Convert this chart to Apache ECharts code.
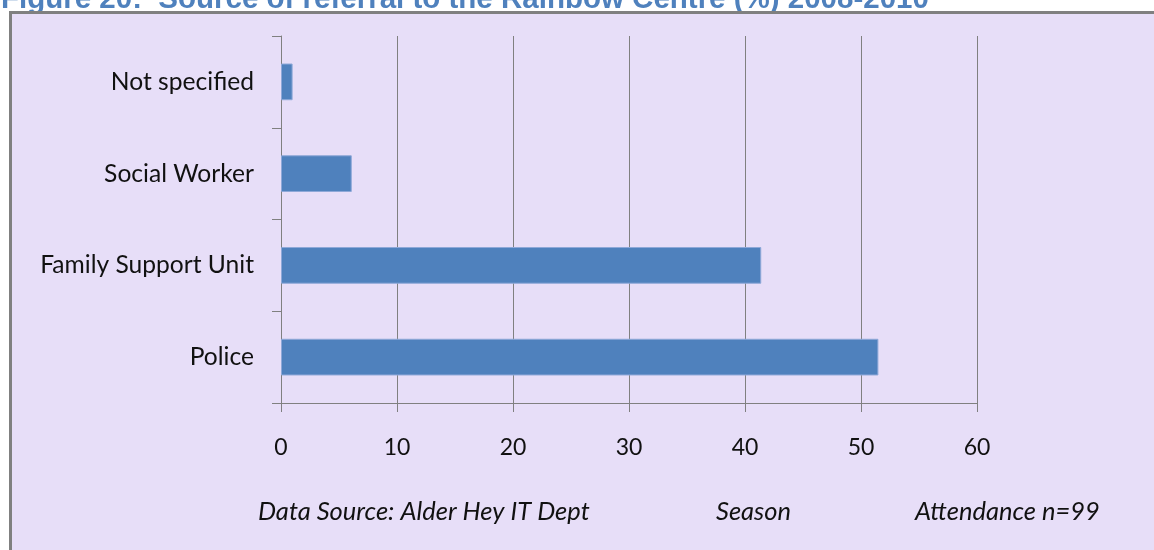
<!DOCTYPE html>
<html>
<head>
<meta charset="utf-8">
<script src="https://cdn.jsdelivr.net/npm/echarts@6/dist/echarts.min.js"></script>
<style>
html,body{margin:0;padding:0;background:#fff;}
#chart{width:1154px;height:550px;}
</style>
</head>
<body>
<div id="chart"></div>
<script>
var categories = ['Not specified', 'Social Worker', 'Family Support Unit', 'Police'];
var percentValues = [1.0, 6.1, 41.4, 51.5];
var xTickMin = 0, xTickMax = 60, xTickStep = 10;
var titleText = 'Figure 20:  Source of referral to the Rainbow Centre (%) 2008-2010';
var footerTexts = ['Data Source: Alder Hey IT Dept', 'Season', 'Attendance n=99'];

var chart = echarts.init(document.getElementById('chart'), null, {renderer: 'canvas'});
var labelFont = 'Lato, "Open Sans", sans-serif';
var option = {
  backgroundColor: '#ffffff',
  animation: false,
  grid: {left: 281, right: 1154 - 977, top: 36, bottom: 550 - 403, containLabel: false},
  xAxis: {
    type: 'value', min: xTickMin, max: xTickMax, interval: xTickStep,
    axisLine: {show: true, lineStyle: {color: '#808080', width: 1}},
    axisTick: {show: true, length: 9, lineStyle: {color: '#808080'}},
    splitLine: {show: true, lineStyle: {color: '#808080', width: 1}},
    axisLabel: {color: '#111', fontFamily: labelFont, fontSize: 23, margin: 33}
  },
  yAxis: {
    type: 'category', data: categories, inverse: true,
    axisLine: {show: true, lineStyle: {color: '#808080', width: 1}},
    axisTick: {show: true, length: 9, lineStyle: {color: '#808080'}},
    axisLabel: {color: '#111', fontFamily: labelFont, fontSize: 24.6, margin: 27}
  },
  series: [{
    type: 'bar', data: percentValues, barWidth: '40%',
    itemStyle: {color: '#4F81BD', borderColor: '#8EA8D8', borderWidth: 1}
  }],
  graphic: [
    {type: 'text', z: -20, left: 1, top: -15,
     style: {text: titleText, font: 'bold 29.5px "Liberation Sans", Arial, sans-serif', fill: '#4F81BD'}},
    {type: 'rect', z: -10, shape: {x: 10.5, y: 12.5, width: 1200, height: 600},
     style: {fill: '#E7DEF8', stroke: '#808080', lineWidth: 3}},
    {type: 'text', left: 258, top: 499,
     style: {text: footerTexts[0], font: 'italic 25.5px ' + labelFont, fill: '#111'}},
    {type: 'text', left: 716, top: 499,
     style: {text: footerTexts[1], font: 'italic 25.5px ' + labelFont, fill: '#111'}},
    {type: 'text', left: 915, top: 499,
     style: {text: footerTexts[2], font: 'italic 25.5px ' + labelFont, fill: '#111'}}
  ]
};
chart.setOption(option);
</script>
</body>
</html>
